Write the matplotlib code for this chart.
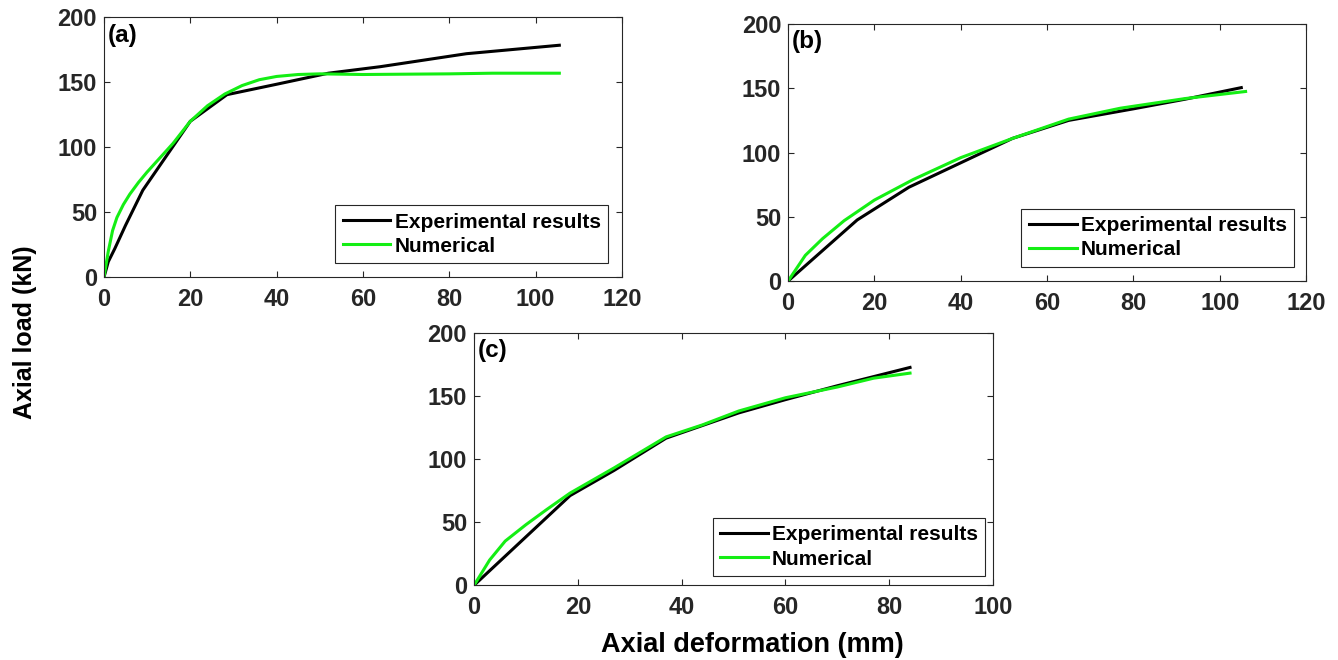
import matplotlib
matplotlib.use("Agg")
import matplotlib.pyplot as plt

plt.rcParams["font.family"] = ["Liberation Sans", "DejaVu Sans"]
plt.rcParams["font.weight"] = "bold"

# panel (a)
A_EXP_X = [0, 1, 2.5, 5, 9, 20, 28.5, 40, 52, 64, 84, 105.5]
A_EXP_Y = [0, 12, 22, 40, 67, 120, 140.5, 148.5, 157, 162, 172, 178.5]
A_NUM_X = [0, 1, 2, 3, 4.5, 6, 8, 10, 13, 16, 20, 24, 28, 32, 36, 40, 45, 50, 60, 80, 90, 105.5]
A_NUM_Y = [0, 20, 36, 46, 56, 64, 73, 81, 92, 103, 120, 132, 141, 147.5, 152, 154.5, 156, 156.5, 156, 156.5, 157, 157]

# panel (b)
B_EXP_X = [0, 16, 28, 40, 52, 65, 80, 92, 105]
B_EXP_Y = [0, 47.5, 73, 92, 111, 125, 134, 141.5, 150.5]
B_NUM_X = [0, 4, 8, 13, 20, 29, 40, 52, 65, 77, 92, 106]
B_NUM_Y = [0, 20, 33, 47, 63, 79, 96, 111, 126, 134.5, 142, 147.5]

# panel (c)
C_EXP_X = [0, 18.5, 27, 37, 51, 60, 70, 84]
C_EXP_Y = [0, 71, 91, 116.5, 136.5, 147, 158, 172.5]
C_NUM_X = [0, 3, 6, 10, 14, 18.5, 27, 37, 44, 51, 60, 70, 77, 84]
C_NUM_Y = [0, 20, 35, 48, 60, 73, 93, 117.5, 127, 138, 148.5, 157, 164, 168]

PANELS = ["(a)", "(b)", "(c)"]
SERIES = ["Experimental results", "Numerical"]
X_MAX = [120, 120, 100]

AX_COLOR = "#262626"
GREEN = "#14ee14"

fig = plt.figure(figsize=(13.38, 6.6), dpi=100)
rects = [
    [0.0777, 0.5798, 0.3871, 0.394],
    [0.589, 0.5742, 0.3871, 0.3894],
    [0.3543, 0.1132, 0.3879, 0.3827],
]
legend_anchor = [(0.973, 0.055), (0.977, 0.056), (0.985, 0.037)]
data = [
    (A_EXP_X, A_EXP_Y, A_NUM_X, A_NUM_Y),
    (B_EXP_X, B_EXP_Y, B_NUM_X, B_NUM_Y),
    (C_EXP_X, C_EXP_Y, C_NUM_X, C_NUM_Y),
]

for i in range(3):
    ax = fig.add_axes(rects[i])
    ex, ey, nx, ny = data[i]
    ax.plot(ex, ey, color="black", lw=2.2, label=SERIES[0])
    ax.plot(nx, ny, color=GREEN, lw=2.2, label=SERIES[1])
    ax.set_xlim(0, X_MAX[i])
    ax.set_ylim(0, 200)
    ax.set_xticks(range(0, X_MAX[i] + 1, 20))
    ax.set_yticks(range(0, 201, 50))
    ax.tick_params(direction="in", top=True, right=True, length=4.5, width=0.8,
                   color=AX_COLOR, labelcolor=AX_COLOR, labelsize=17)
    ax.tick_params(axis="y", pad=5)
    ax.tick_params(axis="x", pad=8)
    for s in ax.spines.values():
        s.set_color(AX_COLOR)
        s.set_linewidth(0.8)
    ax.text(0.008, 0.975, PANELS[i], transform=ax.transAxes, ha="left", va="top",
            fontsize=17.5, fontweight="bold", color="black")
    leg = ax.legend(loc="lower right", bbox_to_anchor=legend_anchor[i], borderaxespad=0,
                    fancybox=False, edgecolor=AX_COLOR, framealpha=1, fontsize=15,
                    handlelength=2.3, handletextpad=0.2, labelspacing=0.25, borderpad=0.35)
    leg.get_frame().set_linewidth(0.8)

fig.text(25 / 1338, 1 - 332 / 660, "Axial load (kN)", rotation=90, ha="center", va="center",
         fontsize=18, fontweight="bold")
fig.text(752 / 1338, 1 - 645 / 660, "Axial deformation (mm)", ha="center", va="center",
         fontsize=19.5, fontweight="bold")

fig.savefig("out.png", dpi=100)
